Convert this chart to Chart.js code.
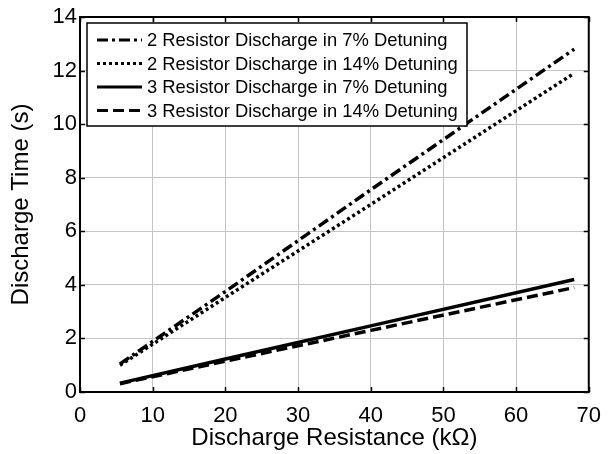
<!DOCTYPE html>
<html>
<head>
<meta charset="utf-8">
<script src="https://cdn.jsdelivr.net/npm/chart.js@4.4.0/dist/chart.umd.min.js"></script>
<style>
  html, body { margin: 0; padding: 0; background: #fff; }
  #wrap { width: 612px; height: 454px; }
</style>
</head>
<body>
<div id="wrap"><canvas id="chart" width="612" height="454"></canvas></div>
<script>
// --- DATA ---
const resistance = [5.5, 20, 40, 68];
const twoRes7 = [1.05, 3.75, 7.55, 12.8];
const twoRes14 = [1.0, 3.53, 7.0, 11.9];
const threeRes7 = [0.33, 1.23, 2.47, 4.2];
const threeRes14 = [0.31, 1.15, 2.3, 3.9];
const seriesLabels = [
    '2 Resistor Discharge in 7% Detuning',
    '2 Resistor Discharge in 14% Detuning',
    '3 Resistor Discharge in 7% Detuning',
    '3 Resistor Discharge in 14% Detuning'
];
const xTicks = [0, 10, 20, 30, 40, 50, 60, 70];
const yTicks = [0, 2, 4, 6, 8, 10, 12, 14];

const FONT = 'Liberation Sans, Arial, sans-serif';
const dashes = [[11, 4, 3, 4], [3, 3], [], [11, 5]];

function pts(vals) {
    return resistance.map((x, i) => ({ x: x, y: vals[i] }));
}

// --- PLUGIN: box, inner ticks and legend ---
const matlabFrame = {
    id: 'matlabFrame',
    afterDraw(chart) {
        const { ctx, chartArea: a, scales } = chart;
        ctx.save();
        ctx.strokeStyle = '#000';
        ctx.lineWidth = 1.5;
        ctx.setLineDash([]);
        // ticks
        ctx.beginPath();
        xTicks.forEach(v => {
            const px = Math.round(scales.x.getPixelForValue(v)) + 0.5;
            ctx.moveTo(px, a.bottom); ctx.lineTo(px, a.bottom - 5);
            ctx.moveTo(px, a.top); ctx.lineTo(px, a.top + 5);
        });
        yTicks.forEach(v => {
            const py = Math.round(scales.y.getPixelForValue(v)) + 0.5;
            ctx.moveTo(a.left, py); ctx.lineTo(a.left + 5, py);
            ctx.moveTo(a.right, py); ctx.lineTo(a.right - 5, py);
        });
        ctx.stroke();
        ctx.lineWidth = 2;
        ctx.strokeRect(a.left, a.top, a.right - a.left, a.bottom - a.top);

        // legend
        const lx = a.left + 7, ly = a.top + 6, lw = 380, lh = 103;
        ctx.fillStyle = '#fff';
        ctx.fillRect(lx, ly, lw, lh);
        ctx.lineWidth = 1.5;
        ctx.strokeRect(lx, ly, lw, lh);
        ctx.font = '18.4px ' + FONT;
        ctx.textBaseline = 'middle';
        chart.data.datasets.forEach((ds, i) => {
            const yy = ly + 17 + i * 23.5;
            ctx.beginPath();
            ctx.lineWidth = 3;
            ctx.setLineDash(ds.borderDash || []);
            ctx.moveTo(lx + 10, yy); ctx.lineTo(lx + 55, yy);
            ctx.stroke();
            ctx.setLineDash([]);
            ctx.fillStyle = '#000';
            ctx.fillText(ds.label, lx + 60, yy + 1);
        });
        ctx.restore();
    }
};

new Chart(document.getElementById('chart'), {
    type: 'scatter',
    data: {
        datasets: [twoRes7, twoRes14, threeRes7, threeRes14].map((vals, i) => ({
            label: seriesLabels[i],
            data: pts(vals),
            showLine: true,
            borderColor: '#000',
            borderWidth: 3.5,
            borderDash: dashes[i],
            pointRadius: 0,
            fill: false
        }))
    },
    options: {
        responsive: false,
        animation: false,
        layout: { padding: { left: 0, right: 22, top: 17, bottom: 0 } },
        plugins: { legend: { display: false }, tooltip: { enabled: false } },
        scales: {
            x: {
                type: 'linear', min: 0, max: 70,
                afterBuildTicks: s => { s.ticks = xTicks.map(v => ({ value: v })); },
                afterFit: s => { s.height = 62; },
                grid: { color: '#c4c4c4', lineWidth: 1, drawTicks: false },
                border: { display: false },
                ticks: { color: '#000', font: { family: FONT, size: 22 }, padding: 11, maxRotation: 0 },
                title: { display: true, text: 'Discharge Resistance (kΩ)', color: '#000', font: { family: FONT, size: 24 }, padding: { top: 0, bottom: 1 } }
            },
            y: {
                type: 'linear', min: 0, max: 14,
                afterBuildTicks: s => { s.ticks = yTicks.map(v => ({ value: v })); },
                afterFit: s => { s.width = 80; },
                grid: { color: '#c4c4c4', lineWidth: 1, drawTicks: false },
                border: { display: false },
                ticks: { color: '#000', font: { family: FONT, size: 22 }, padding: 3 },
                title: { display: true, text: 'Discharge Time (s)', color: '#000', font: { family: FONT, size: 24 }, padding: { top: 7, bottom: 0 } }
            }
        }
    },
    plugins: [matlabFrame]
});
</script>
</body>
</html>
